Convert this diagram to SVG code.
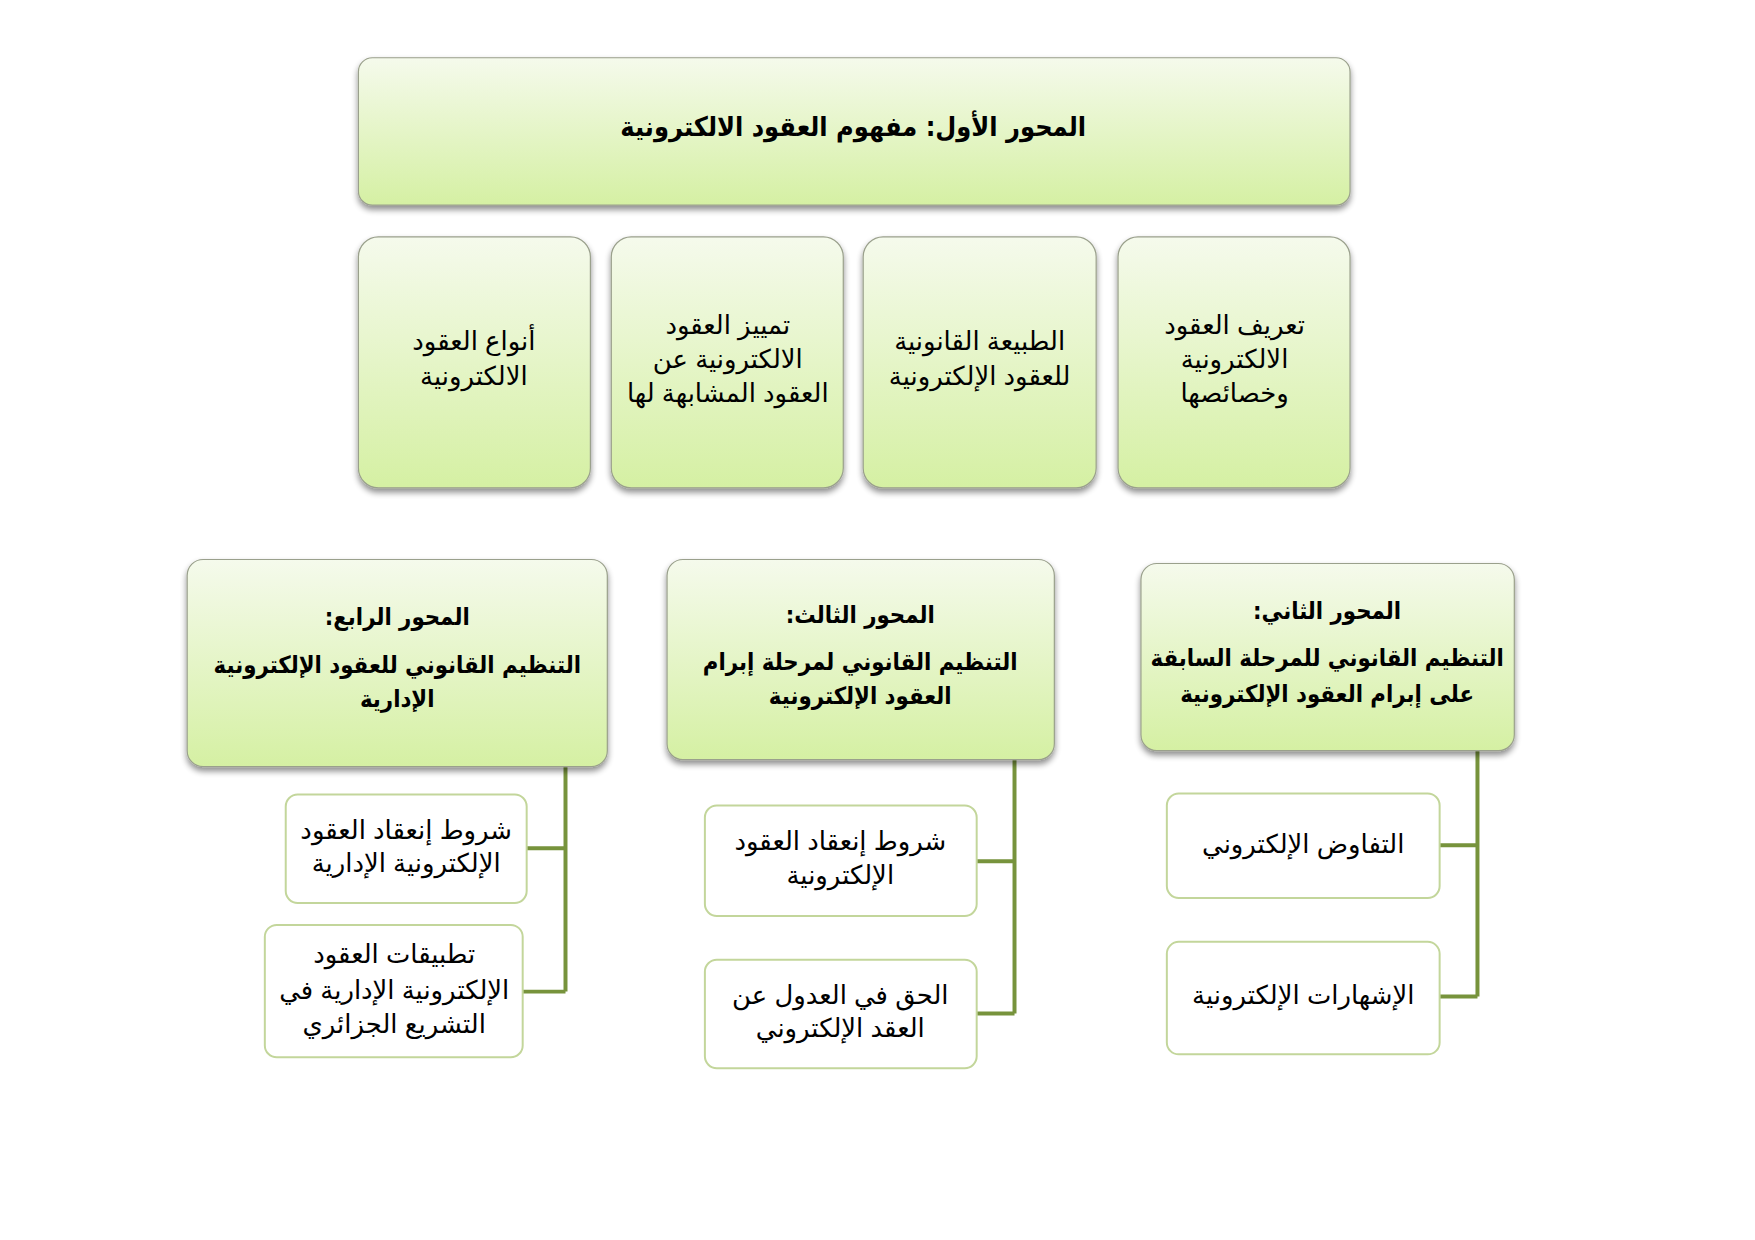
<svg xmlns="http://www.w3.org/2000/svg" width="1755" height="1240" viewBox="0 0 1755 1240">
<defs>
<linearGradient id="g" x1="0" y1="0" x2="0" y2="1">
<stop offset="0" stop-color="#f5faec"/>
<stop offset="1" stop-color="#d5f0a3"/>
</linearGradient>
<filter id="sh" x="-10%" y="-10%" width="120%" height="130%">
<feGaussianBlur in="SourceAlpha" stdDeviation="3"/>
<feOffset dx="0" dy="4" result="b"/>
<feComponentTransfer><feFuncA type="linear" slope="0.45"/></feComponentTransfer>
<feMerge><feMergeNode/><feMergeNode in="SourceGraphic"/></feMerge>
</filter>
</defs>
<style>
.box{fill:url(#g);stroke:#9aa08c;stroke-width:1.2;filter:url(#sh)}
.child{fill:#ffffff;stroke:#c3d69b;stroke-width:2}
.t{font-family:"Liberation Sans","DejaVu Sans",sans-serif;font-size:26px;fill:#000;text-anchor:middle;direction:rtl}
.b{font-family:"DejaVu Sans Condensed","DejaVu Sans",sans-serif;font-stretch:condensed;font-weight:bold;font-size:23.8px}
.c{fill:none;stroke:#77933c;stroke-width:4}
</style>
<rect width="1755" height="1240" fill="#ffffff"/>
<g transform="scale(0.9956)">
<g id="connectors">
<path class="c" d="M568 770 V996 M529 852 H568 M525 996 H568"/>
<path class="c" d="M1019 763 V1018 M981 865 H1019 M981 1018 H1019"/>
<path class="c" d="M1484 754 V1001 M1446 849 H1484 M1446 1001 H1484"/>
</g>

<g id="axis1">
<rect class="box" x="360" y="58" width="996" height="148" rx="14"/>
<text class="t b" x="857" y="137" style="font-size:27px">المحور الأول: مفهوم العقود الالكترونية</text>
</g>

<g id="types">
<rect class="box" x="360" y="238" width="233" height="252" rx="20"/>
<text class="t" x="476" y="352">أنواع العقود</text>
<text class="t" x="476" y="387">الالكترونية</text>
</g>
<g id="distinction">
<rect class="box" x="614" y="238" width="233" height="252" rx="20"/>
<text class="t" x="731" y="335">تمييز العقود</text>
<text class="t" x="731" y="370">الالكترونية عن</text>
<text class="t" x="731" y="404">العقود المشابهة لها</text>
</g>
<g id="nature">
<rect class="box" x="867" y="238" width="234" height="252" rx="20"/>
<text class="t" x="984" y="352">الطبيعة القانونية</text>
<text class="t" x="984" y="387">للعقود الإلكترونية</text>
</g>
<g id="definition">
<rect class="box" x="1123" y="238" width="233" height="252" rx="20"/>
<text class="t" x="1240" y="335">تعريف العقود</text>
<text class="t" x="1240" y="370">الالكترونية</text>
<text class="t" x="1240" y="404">وخصائصها</text>
</g>

<g id="axis4">
<rect class="box" x="188" y="562" width="422" height="208" rx="16"/>
<text class="t b" x="399" y="628">المحور الرابع:</text>
<text class="t b" x="399" y="676">التنظيم القانوني للعقود الإلكترونية</text>
<text class="t b" x="399" y="710">الإدارية</text>
</g>
<g id="axis3">
<rect class="box" x="670" y="562" width="389" height="201" rx="16"/>
<text class="t b" x="864" y="626">المحور الثالث:</text>
<text class="t b" x="864" y="673">التنظيم القانوني لمرحلة إبرام</text>
<text class="t b" x="864" y="707">العقود الإلكترونية</text>
</g>
<g id="axis2">
<rect class="box" x="1146" y="566" width="375" height="188" rx="16"/>
<text class="t b" x="1333" y="622">المحور الثاني:</text>
<text class="t b" x="1333" y="669">التنظيم القانوني للمرحلة السابقة</text>
<text class="t b" x="1333" y="705">على  إبرام العقود الإلكترونية</text>
</g>

<g id="c4a">
<rect class="child" x="287" y="798" width="242" height="109" rx="12"/>
<text class="t" x="408" y="843">شروط إنعقاد العقود</text>
<text class="t" x="408" y="876">الإلكترونية الإدارية</text>
</g>
<g id="c4b">
<rect class="child" x="266" y="929" width="259" height="133" rx="12"/>
<text class="t" x="396" y="967">تطبيقات العقود</text>
<text class="t" x="396" y="1003">الإلكترونية الإدارية في</text>
<text class="t" x="396" y="1038">التشريع الجزائري</text>
</g>
<g id="c3a">
<rect class="child" x="708" y="809" width="273" height="111" rx="12"/>
<text class="t" x="844" y="854">شروط إنعقاد العقود</text>
<text class="t" x="844" y="888">الإلكترونية</text>
</g>
<g id="c3b">
<rect class="child" x="708" y="964" width="273" height="109" rx="12"/>
<text class="t" x="844" y="1008">الحق في العدول عن</text>
<text class="t" x="844" y="1042">العقد الإلكتروني</text>
</g>
<g id="c2a">
<rect class="child" x="1172" y="797" width="274" height="105" rx="12"/>
<text class="t" x="1309" y="857">التفاوض الإلكتروني</text>
</g>
<g id="c2b">
<rect class="child" x="1172" y="946" width="274" height="113" rx="12"/>
<text class="t" x="1309" y="1008">الإشهارات الإلكترونية</text>
</g>
</g>
</svg>
